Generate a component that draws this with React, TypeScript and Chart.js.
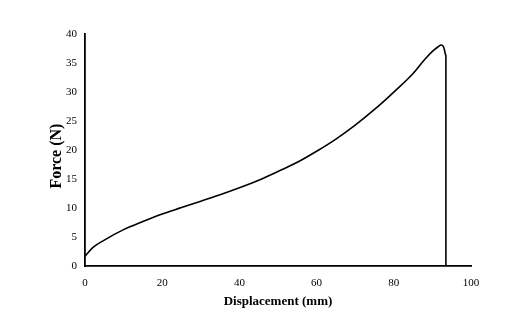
import React, { useEffect, useRef } from "react";
import { Chart, registerables } from "chart.js";

Chart.register(...registerables);

const displacement = [0, 2, 5, 10, 15, 20, 25, 30, 35, 40, 45, 50, 55, 60, 65, 70, 75, 80, 85, 88, 90, 91.5, 92.3, 93, 93.5, 93.5];
const force = [1.7, 3.2, 4.5, 6.3, 7.7, 9.0, 10.1, 11.2, 12.3, 13.5, 14.8, 16.3, 17.9, 19.8, 21.9, 24.3, 27.0, 30.0, 33.2, 35.6, 37.0, 37.8, 38.1, 37.6, 36.3, 0];
const xTicks = [0, 20, 40, 60, 80, 100];
const yTicks = [0, 5, 10, 15, 20, 25, 30, 35, 40];
const xTitle = "Displacement (mm)";
const yTitle = "Force (N)";

const FONT = "'Liberation Serif', 'Times New Roman', serif";

const yTitlePlugin = {
  id: "yTitlePlugin",
  afterDraw(chart: any) {
    const { ctx, chartArea } = chart;
    ctx.save();
    ctx.translate(chartArea.left - 28, (chartArea.top + chartArea.bottom) / 2 + 6);
    ctx.rotate(-Math.PI / 2);
    ctx.font = `bold 16px ${FONT}`;
    ctx.fillStyle = "#000";
    ctx.textAlign = "center";
    ctx.textBaseline = "middle";
    ctx.fillText(yTitle, 0, 0);
    ctx.restore();
  },
};

export default function App() {
  const ref = useRef<HTMLCanvasElement>(null);
  useEffect(() => {
    if (!ref.current) return;
    const chart = new Chart(ref.current, {
      type: "line",
      data: {
        datasets: [
          {
            data: displacement.map((x, i) => ({ x, y: force[i] })),
            borderColor: "#000",
            borderWidth: 1.6,
            pointRadius: 0,
            cubicInterpolationMode: "monotone",
            fill: false,
          },
        ],
      },
      options: {
        animation: false,
        responsive: false,
        maintainAspectRatio: false,
        layout: { padding: { left: 58, right: 38, top: 34, bottom: 13 } },
        plugins: { legend: { display: false }, tooltip: { enabled: false } },
        scales: {
          x: {
            type: "linear",
            min: 0,
            max: 100,
            afterBuildTicks: (s: any) => {
              s.ticks = xTicks.map((v) => ({ value: v }));
            },
            grid: { display: false, drawTicks: false },
            border: { display: true, color: "#000", width: 1.8 },
            ticks: { color: "#000", font: { family: FONT, size: 11 }, padding: 10, maxRotation: 0 },
            title: { display: true, text: xTitle, color: "#000", font: { family: FONT, size: 13, weight: "bold" }, padding: { top: -6, bottom: 4 } },
          },
          y: {
            type: "linear",
            min: 0,
            max: 40,
            afterBuildTicks: (s: any) => {
              s.ticks = yTicks.map((v) => ({ value: v }));
            },
            grid: { display: false, drawTicks: false },
            border: { display: true, color: "#000", width: 1.8 },
            ticks: { color: "#000", font: { family: FONT, size: 11 }, padding: 8 },
            title: { display: false },
          },
        },
      },
      plugins: [yTitlePlugin],
    });
    return () => chart.destroy();
  }, []);
  return (
    <div style={{ position: "fixed", left: 0, top: 0, width: 509, height: 326, background: "#fff" }}>
      <canvas ref={ref} width={509} height={326} style={{ width: 509, height: 326 }} />
    </div>
  );
}
